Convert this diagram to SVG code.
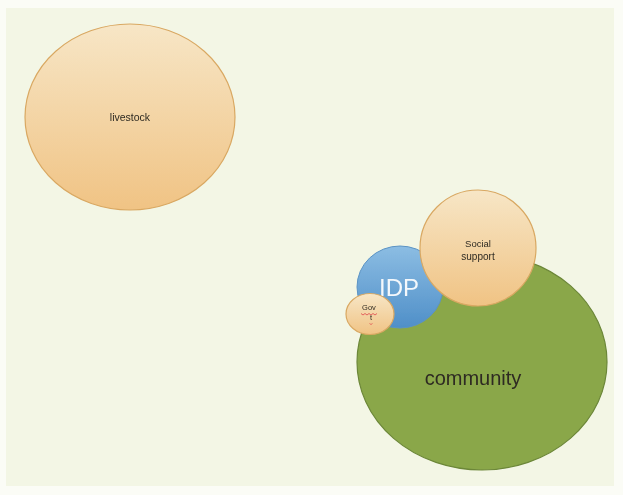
<svg xmlns="http://www.w3.org/2000/svg" width="623" height="495" viewBox="0 0 623 495">
  <defs>
    <linearGradient id="peach" x1="0" y1="0" x2="0" y2="1">
      <stop offset="0" stop-color="#f7e6c6"/>
      <stop offset="1" stop-color="#f0c384"/>
    </linearGradient>
    <linearGradient id="blue" x1="0" y1="0" x2="0" y2="1">
      <stop offset="0" stop-color="#8cbde3"/>
      <stop offset="1" stop-color="#4f8fc8"/>
    </linearGradient>
    <filter id="soft" x="-5%" y="-5%" width="110%" height="110%">
      <feGaussianBlur stdDeviation="0.6"/>
    </filter>
  </defs>
  <style>
    .peach { fill: url(#peach); stroke: #d9a862; stroke-width: 1.2; }
    .green { fill: #8aa74a; stroke: #6c8738; stroke-width: 1.2; }
    .blue  { fill: url(#blue); stroke: #5b93c4; stroke-width: 1; }
    .lbl { font-family: "Liberation Sans", Arial, sans-serif; text-anchor: middle; fill: #2e2a22; }
  </style>

  <!-- page -->
  <rect x="0" y="0" width="623" height="495" fill="#fbfcf6"/>
  <rect x="6" y="8" width="608" height="478" fill="#f3f6e5"/>

  <g filter="url(#soft)">
    <g id="livestock">
      <ellipse class="peach" cx="130" cy="117" rx="105" ry="93"/>
      <text class="lbl" x="130" y="121" font-size="10.5">livestock</text>
    </g>

    <g id="community">
      <ellipse class="green" cx="482" cy="362" rx="125" ry="108"/>
      <text class="lbl" x="473" y="385" font-size="20" fill="#1f2a10">community</text>
    </g>

    <g id="idp">
      <ellipse class="blue" cx="400" cy="287" rx="43" ry="41"/>
      <text class="lbl" x="399" y="296" font-size="24" style="fill:#f4f8fc">IDP</text>
    </g>

    <g id="social-support">
      <ellipse class="peach" cx="478" cy="248" rx="58" ry="58"/>
      <text class="lbl" x="478" y="247" font-size="9.5">Social</text>
      <text class="lbl" x="478" y="260" font-size="10">support</text>
    </g>

    <g id="govt">
      <ellipse class="peach" cx="370" cy="314" rx="24" ry="20.5"/>
      <text class="lbl" x="369" y="310" font-size="7.5">Gov</text>
      <polyline points="361,313.5 363,315 365,313.5 367,315 369,313.5 371,315 373,313.5 375,315 377,313.5" fill="none" stroke="#e0454a" stroke-width="0.8"/>
      <text class="lbl" x="371" y="320" font-size="7.5">t</text>
      <path d="M369.5,323.5 q1.5,2 3,0" fill="none" stroke="#e0454a" stroke-width="0.7"/>
    </g>
  </g>

  <g id="connectors"/>
</svg>
